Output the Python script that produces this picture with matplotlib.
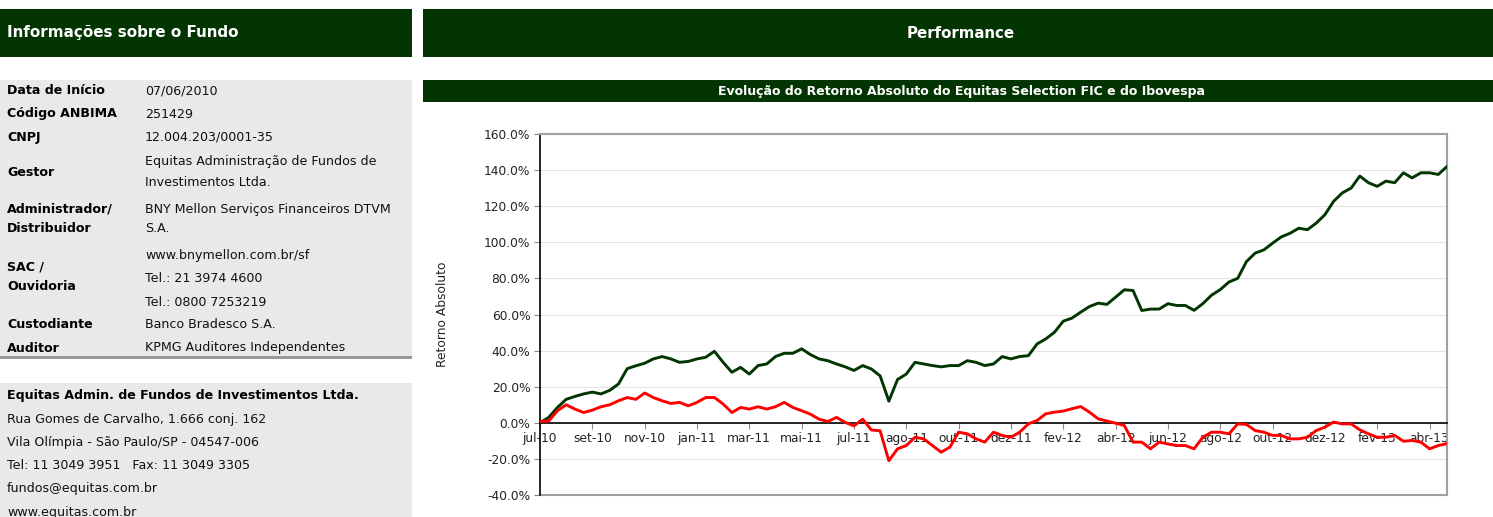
import matplotlib
matplotlib.use('Agg')
import matplotlib.pyplot as plt
from matplotlib.patches import Rectangle
from matplotlib.ticker import FuncFormatter

plt.rcParams['font.family'] = ['DejaVu Sans']

dark_green = '#033503'
panel_gray = '#e9e9e9'

# info table
info_labels = [['Data de Início'], ['Código ANBIMA'], ['CNPJ'], ['Gestor'],
               ['Administrador/', 'Distribuidor'], ['SAC /', 'Ouvidoria'],
               ['Custodiante'], ['Auditor']]
info_values = [['07/06/2010'], ['251429'], ['12.004.203/0001-35'],
               ['Equitas Administração de Fundos de', 'Investimentos Ltda.'],
               ['BNY Mellon Serviços Financeiros DTVM', 'S.A.'],
               ['www.bnymellon.com.br/sf', 'Tel.: 21 3974 4600', 'Tel.: 0800 7253219'],
               ['Banco Bradesco S.A.'], ['KPMG Auditores Independentes']]
address_title = 'Equitas Admin. de Fundos de Investimentos Ltda.'
address_lines = ['Rua Gomes de Carvalho, 1.666 conj. 162',
                 'Vila Olímpia - São Paulo/SP - 04547-006',
                 'Tel: 11 3049 3951   Fax: 11 3049 3305',
                 'fundos@equitas.com.br',
                 'www.equitas.com.br']

# chart data (retorno absoluto, %)
months = ['jul-10', 'set-10', 'nov-10', 'jan-11', 'mar-11', 'mai-11', 'jul-11', 'ago-11',
          'out-11', 'dez-11', 'fev-12', 'abr-12', 'jun-12', 'ago-12', 'out-12', 'dez-12',
          'fev-13', 'abr-13']
fund = [0, 3, 8.5, 13, 14.6, 16, 17, 16, 18, 21.5,
        30, 31.6, 33, 35.4, 36.7, 35.4, 33.5, 34, 35.4, 36.3,
        39.6, 33.5, 28, 30.7, 27, 31.7, 32.6, 36.7, 38.5, 38.5,
        41, 37.8, 35.4, 34.4, 32.6, 31, 29, 31.7, 29.8, 26,
        12, 24, 27, 33.5, 32.6, 31.7, 31, 31.7, 31.7, 34.4,
        33.5, 31.7, 32.6, 36.7, 35.4, 36.7, 37.2, 43.7, 46.5, 50.2,
        56.3, 58, 61.3, 64.4, 66.3, 65.6, 69.6, 73.7, 73.3, 62.2,
        63, 63, 66, 65, 65, 62.3, 66, 70.7, 73.8, 78,
        80, 89.3, 94, 95.8, 99.5, 103, 105, 107.8, 107, 110.6,
        115.3, 122.7, 127.4, 130, 136.7, 133, 131, 133.9, 133, 138.5,
        135.7, 138.5, 138.5, 137.6, 142]
ibov = [0.7, 1, 6.7, 10, 7.6, 5.7, 7, 8.9, 10, 12.2,
        14, 13, 16.5, 14, 12.2, 10.7, 11.3, 9.4, 11.3, 14,
        14, 10.4, 5.7, 8.5, 7.6, 8.9, 7.6, 8.9, 11.3, 8.5,
        6.7, 4.8, 2, 0.7, 3, 0.2, -1.7, 2, -4, -4.4,
        -21, -14.4, -12.6, -8, -8.9, -12.6, -16.3, -13.5, -5.2, -6.1,
        -8.9, -10.7, -5.2, -7, -8, -5.2, -0.6, 1.3, 5, 5.9,
        6.5, 7.8, 9, 5.9, 2.2, 1, -0.2, -1.5, -10.7, -10.7,
        -14.4, -10.7, -11.7, -12.6, -12.6, -14.4, -8, -5.2, -5.2, -6.1,
        -0.6, -0.9, -4.3, -5.2, -7, -7, -8.9, -8.9, -8, -4.3,
        -2.4, 0.4, -0.6, -0.6, -3.9, -6.1, -8, -8, -7, -10.2,
        -9.8, -10.7, -14.4, -12.6, -11.5]
points_per_label = 6

W, H = 1493, 517
fig = plt.figure(figsize=(W / 100, H / 100), dpi=100)
fig.patch.set_facecolor('white')

# page layout in pixel coords
bg = fig.add_axes([0, 0, 1, 1])
bg.set_xlim(0, W)
bg.set_ylim(H, 0)
bg.axis('off')

def box(x, y, w, h, color):
    bg.add_patch(Rectangle((x, y), w, h, facecolor=color, edgecolor='none'))

body = 9.1

box(0, 9, 412, 48, dark_green)
bg.text(7, 33, 'Informações sobre o Fundo', color='white', fontsize=10.9,
        fontweight='bold', va='center')
box(423, 9, 1070, 48, dark_green)
bg.text(961, 33, 'Performance', color='white', fontsize=10.8,
        fontweight='bold', va='center', ha='center')

box(0, 80, 412, 277, panel_gray)
box(0, 356, 412, 3, '#999999')
row_y = [91, 114, 137, 172, 219, 277, 325, 348]
val_y = [[91], [114], [137], [161, 182], [210, 229], [255, 278, 302], [325], [348]]
for labels, vals, ly, vy in zip(info_labels, info_values, row_y, val_y):
    if len(labels) == 1:
        bg.text(7, ly, labels[0], fontsize=body, fontweight='bold', va='center')
    else:
        bg.text(7, ly - 10, labels[0], fontsize=body, fontweight='bold', va='center')
        bg.text(7, ly + 10, labels[1], fontsize=body, fontweight='bold', va='center')
    for v, yy in zip(vals, vy):
        bg.text(145, yy, v, fontsize=body, va='center', color='#111111')

box(0, 383, 412, 134, panel_gray)
bg.text(7, 396, address_title, fontsize=body, fontweight='bold', va='center')
for k, line in enumerate(address_lines):
    bg.text(7, 419 + k * 23.3, line, fontsize=body, va='center', color='#111111')

box(423, 80, 1070, 22, dark_green)
bg.text(961, 91, 'Evolução do Retorno Absoluto do Equitas Selection FIC e do Ibovespa',
        color='white', fontsize=9.0, fontweight='bold', va='center', ha='center')

# chart
ax = fig.add_axes([540 / W, (H - 495) / H, 907 / W, 361 / H])
x = list(range(len(fund)))
ax.plot(x, fund, color='#013501', lw=2.1, zorder=3, solid_joinstyle='round')
ax.plot(x, ibov, color='#ff0000', lw=2.1, zorder=3, solid_joinstyle='round')

ax.set_xlim(0, len(fund) - 1)
ax.set_ylim(-40, 160)
ax.set_yticks(range(-40, 161, 20))
ax.yaxis.set_major_formatter(FuncFormatter(lambda v, p: f'{v:.1f}%'))
ax.grid(axis='y', color='#e3e3e3', lw=0.8)
ax.tick_params(axis='y', labelsize=8.8, labelcolor='#222222', length=4,
               color='#888888', pad=3)

ax.set_xticks(range(0, len(months) * points_per_label, points_per_label))
ax.set_xticklabels(months)
ax.spines['bottom'].set_position(('data', 0))
ax.spines['bottom'].set_color('black')
ax.spines['bottom'].set_linewidth(1.2)
ax.tick_params(axis='x', labelsize=8.8, labelcolor='#222222', length=4,
               color='#888888', pad=2.5)
for lbl in ax.get_xticklabels():
    lbl.set_zorder(1)

ax.spines['left'].set_color('black')
ax.spines['left'].set_linewidth(1.2)
ax.spines['top'].set_color('#a0a0a0')
ax.spines['right'].set_color('#a0a0a0')
ax.spines['top'].set_linewidth(1.5)
ax.spines['right'].set_linewidth(1.5)
ax.axhline(-40, color='#a0a0a0', lw=1.5, clip_on=False, zorder=2)

ax.set_ylabel('Retorno Absoluto', fontsize=8.8, color='#222222')
ax.yaxis.set_label_coords(-0.1, 0.5)

fig.savefig('out.png', dpi=100, facecolor='white')
